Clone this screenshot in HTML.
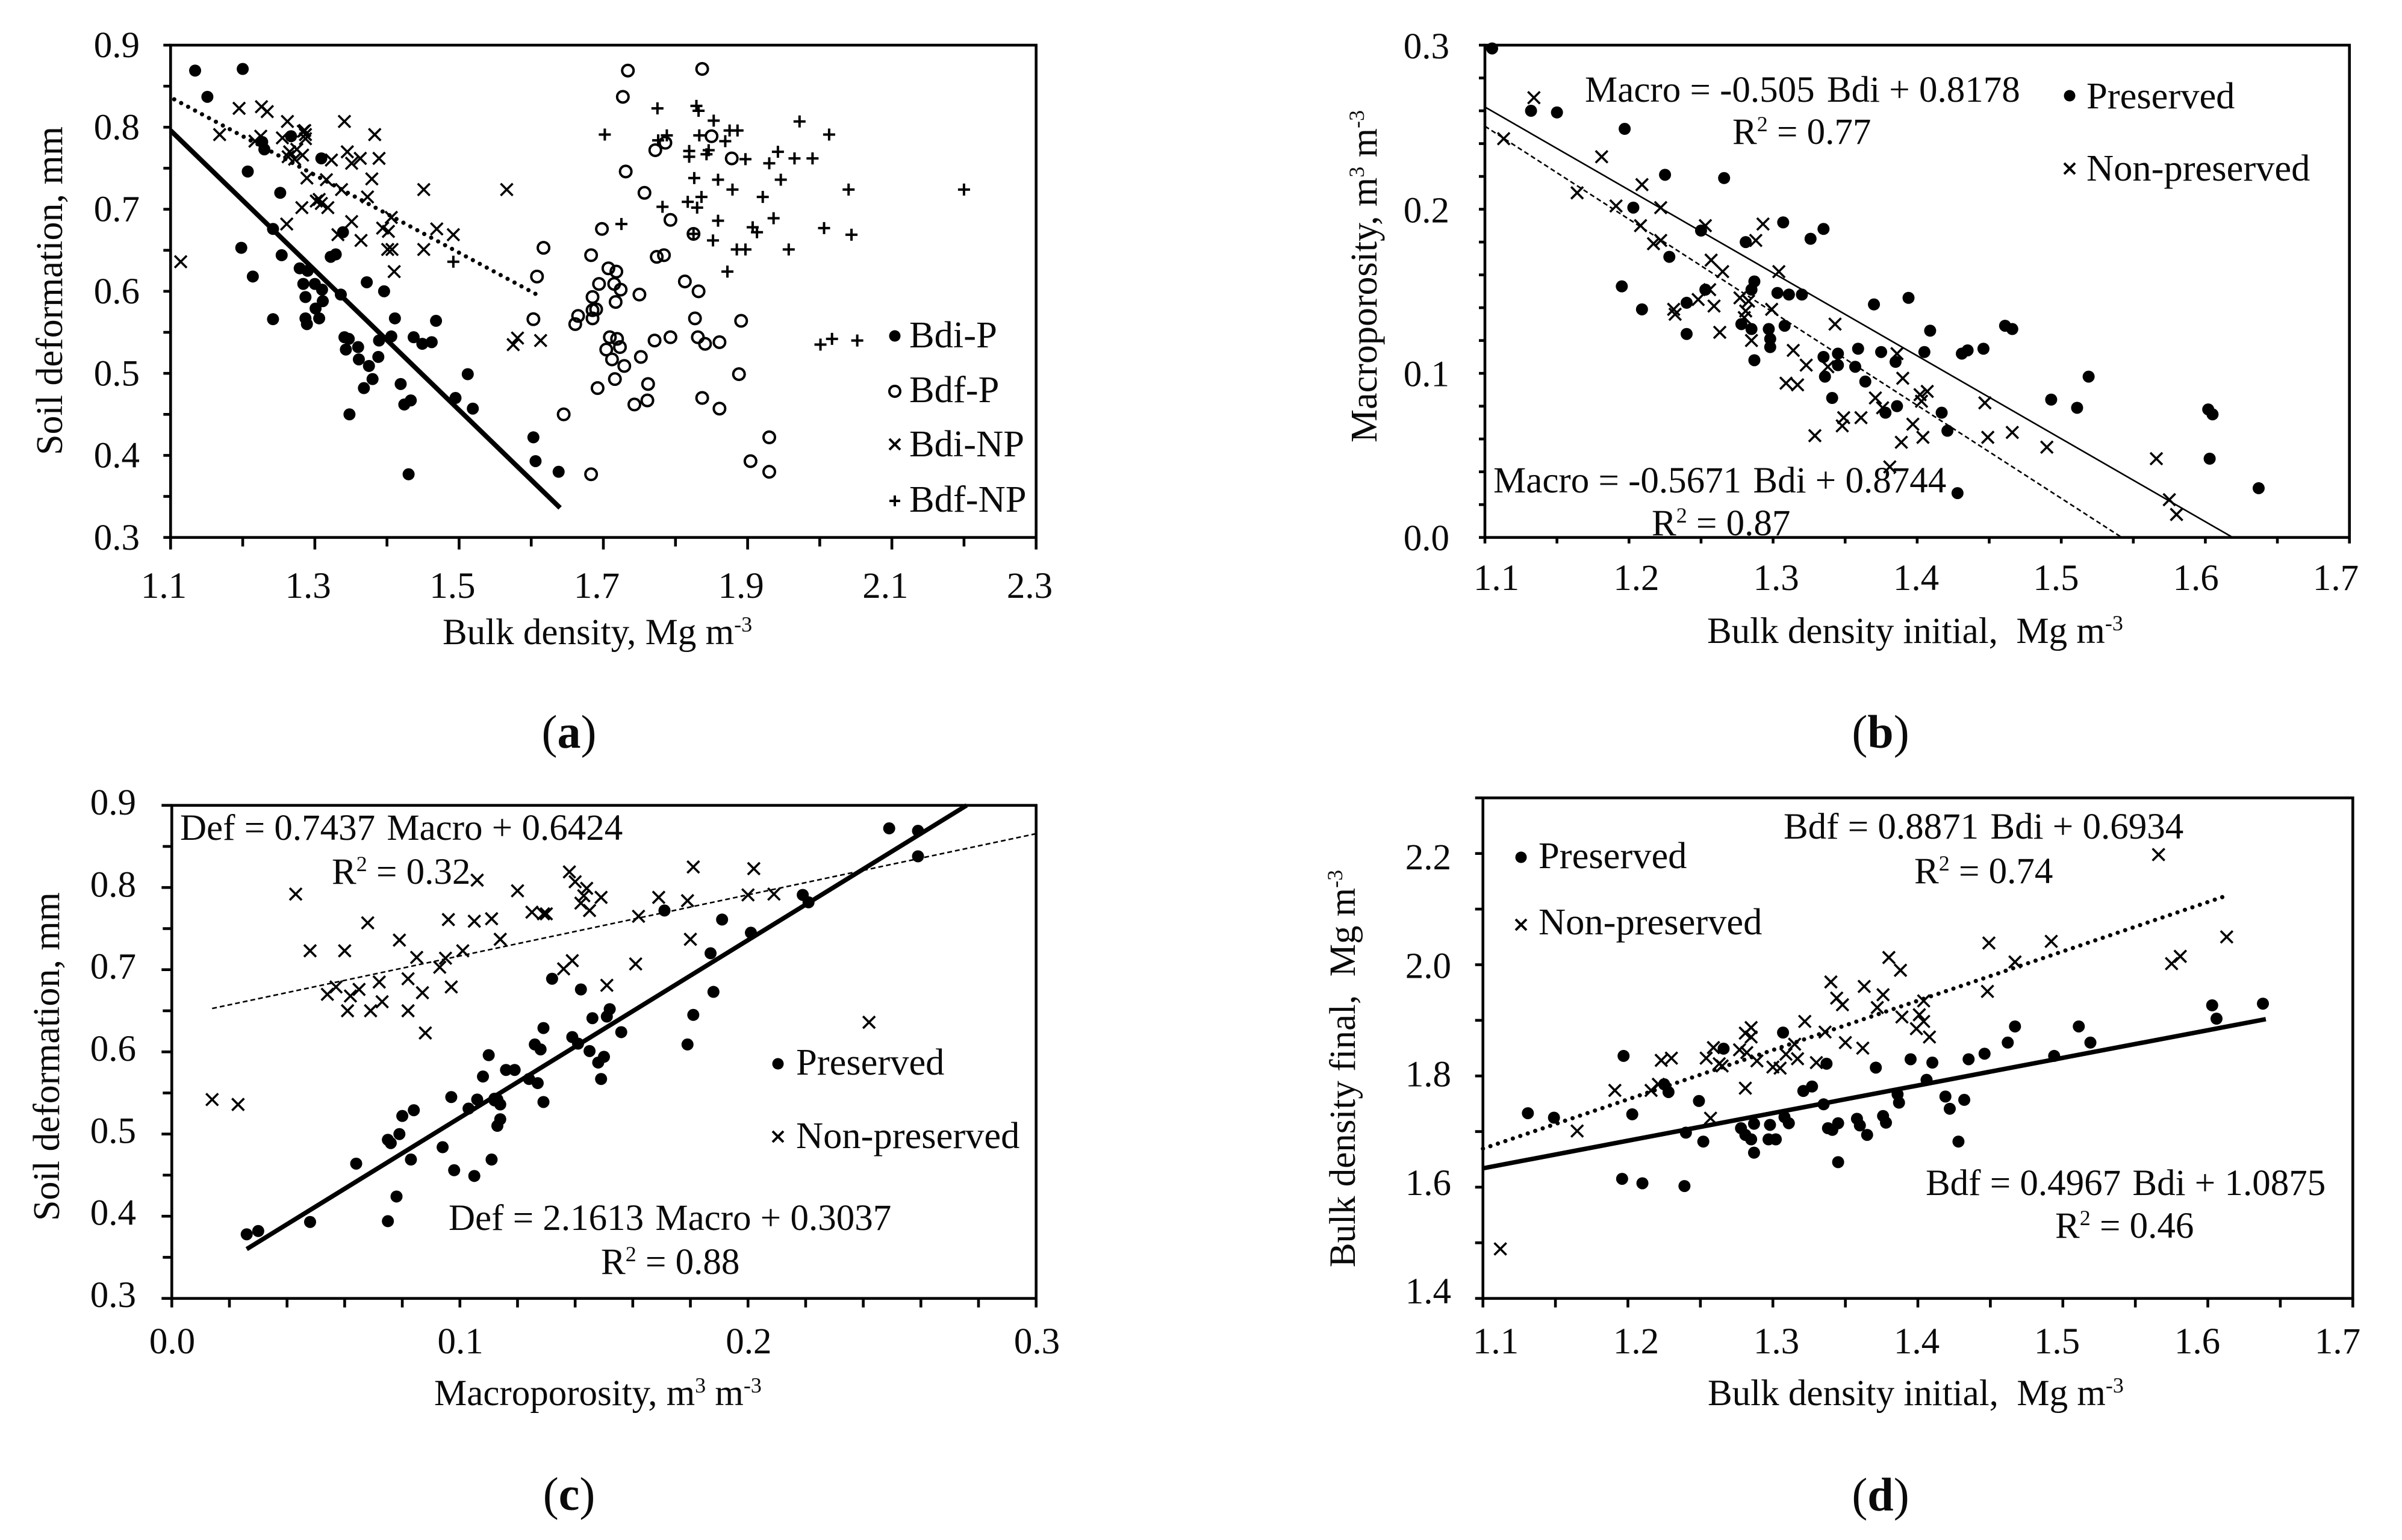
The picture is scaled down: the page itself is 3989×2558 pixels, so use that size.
<!DOCTYPE html>
<html lang="en">
<head>
<meta charset="utf-8">
<title>Soil deformation, macroporosity and bulk density charts</title>
<style>
html,body{margin:0;padding:0;background:#fff;}
svg{display:block;}
text{font-family:"Liberation Serif",serif;font-size:61px;fill:#0a0a0a;white-space:pre;}
.cap{font-size:78px;}
.cap .b{font-weight:bold;}
.leg{font-size:62.5px;}
</style>
</head>
<body>
<svg id="figure" xmlns="http://www.w3.org/2000/svg" width="3989" height="2558" viewBox="0 0 3989 2558">
<rect x="0" y="0" width="3989" height="2558" fill="#fff"/>

<g id="panel-a"></g>
<g id="panel-b"></g>
<g id="panel-c"></g>
<g id="panel-d"></g>

<!-- Panel a text -->
<text transform="translate(103,483) rotate(-90)" text-anchor="middle" style="font-size:62px">Soil deformation, mm</text>
<text x="735" y="1070">Bulk density, Mg m<tspan style="font-size:36px" dy="-21">-3</tspan></text>
<text class="cap" x="945" y="1242" text-anchor="middle">(<tspan class="b">a</tspan>)</text>
<g>
<circle cx="1486" cy="558" r="9.5" fill="#000"/>
<text class="leg" x="1510" y="577">Bdi-P</text>
<circle cx="1486" cy="650" r="9" fill="none" stroke="#000" stroke-width="4"/>
<text class="leg" x="1510" y="668">Bdf-P</text>
<path d="M1477 729L1495 747M1495 729L1477 747" stroke="#000" stroke-width="4" fill="none"/>
<text class="leg" x="1510" y="758">Bdi-NP</text>
<path d="M1477 832H1495M1486 823V841" stroke="#000" stroke-width="4" fill="none"/>
<text class="leg" x="1510" y="850">Bdf-NP</text>
</g>

<!-- Panel b text -->
<text transform="translate(2286,459) rotate(-90)" text-anchor="middle" style="font-size:62px">Macroporosity, m<tspan style="font-size:36px" dy="-21">3</tspan><tspan dy="21"> m</tspan><tspan style="font-size:36px" dy="-21">-3</tspan></text>
<text x="2835" y="1068">Bulk density initial,  Mg m<tspan style="font-size:36px" dy="-21">-3</tspan></text>
<text class="cap" x="3123" y="1242" text-anchor="middle">(<tspan class="b">b</tspan>)</text>
<text x="2632" y="169">Macro = -0.505 <tspan dx="5">Bdi + 0.8178</tspan></text>
<text x="2877" y="239">R<tspan style="font-size:36px" dy="-21">2</tspan><tspan dy="21"> = 0.77</tspan></text>
<text x="2480" y="818">Macro = -0.5671 <tspan dx="4">Bdi + 0.8744</tspan></text>
<text x="2743" y="889">R<tspan style="font-size:36px" dy="-21">2</tspan><tspan dy="21"> = 0.87</tspan></text>
<g>
<circle cx="3437" cy="159" r="9.5" fill="#000"/>
<text class="leg" x="3465" y="180">Preserved</text>
<path d="M3428 271L3446 289M3446 271L3428 289" stroke="#000" stroke-width="4" fill="none"/>
<text class="leg" x="3465" y="300">Non-preserved</text>
</g>

<!-- Panel c text -->
<text transform="translate(98,1755) rotate(-90)" text-anchor="middle" style="font-size:62px">Soil deformation, mm</text>
<text x="721" y="2334">Macroporosity, m<tspan style="font-size:36px" dy="-21">3</tspan><tspan dy="21"> m</tspan><tspan style="font-size:36px" dy="-21">-3</tspan></text>
<text class="cap" x="945" y="2508" text-anchor="middle">(<tspan class="b">c</tspan>)</text>
<text x="299" y="1395">Def = 0.7437 <tspan dx="4">Macro + 0.6424</tspan></text>
<text x="551" y="1468">R<tspan style="font-size:36px" dy="-21">2</tspan><tspan dy="21"> = 0.32</tspan></text>
<text x="745" y="2043">Def = 2.1613 <tspan dx="4">Macro + 0.3037</tspan></text>
<text x="998" y="2116">R<tspan style="font-size:36px" dy="-21">2</tspan><tspan dy="21"> = 0.88</tspan></text>
<g>
<circle cx="1292" cy="1767" r="9.5" fill="#000"/>
<text class="leg" x="1322" y="1785">Preserved</text>
<path d="M1283 1879L1301 1897M1301 1879L1283 1897" stroke="#000" stroke-width="4" fill="none"/>
<text class="leg" x="1322" y="1907">Non-preserved</text>
</g>

<!-- Panel d text -->
<text transform="translate(2250,1775) rotate(-90)" text-anchor="middle">Bulk density final,  Mg m<tspan style="font-size:36px" dy="-21">-3</tspan></text>
<text x="2836" y="2334">Bulk density initial,  Mg m<tspan style="font-size:36px" dy="-21">-3</tspan></text>
<text class="cap" x="3123" y="2509" text-anchor="middle">(<tspan class="b">d</tspan>)</text>
<text x="2962" y="1393">Bdf = 0.8871 <tspan dx="4">Bdi + 0.6934</tspan></text>
<text x="3179" y="1467">R<tspan style="font-size:36px" dy="-21">2</tspan><tspan dy="21"> = 0.74</tspan></text>
<text x="3198" y="1985">Bdf = 0.4967 <tspan dx="4">Bdi + 1.0875</tspan></text>
<text x="3413" y="2056">R<tspan style="font-size:36px" dy="-21">2</tspan><tspan dy="21"> = 0.46</tspan></text>
<g>
<circle cx="2526" cy="1424" r="9.5" fill="#000"/>
<text class="leg" x="2555" y="1442">Preserved</text>
<path d="M2517 1527L2535 1545M2535 1527L2517 1545" stroke="#000" stroke-width="4" fill="none"/>
<text class="leg" x="2555" y="1552">Non-preserved</text>
</g>
</svg>

<script>
// ---------- Panel a data ----------
const aBdiPX=[1.134,1.200,1.151,1.207,1.252,1.227,1.230,1.267,1.309,1.242,1.339,1.198,1.254,1.214,1.279,1.290,1.284,1.287,1.300,1.310,1.311,1.301,1.306,1.287,1.289,1.242,1.322,1.329,1.336,1.372,1.396,1.411,1.468,1.406,1.389,1.341,1.347,1.343,1.360,1.361,1.375,1.388,1.380,1.368,1.348,1.419,1.424,1.433,1.437,1.449,1.462,1.495,1.512,1.519,1.603,1.606,1.638,1.430];
const aBdiPY=[.869,.871,.837,.746,.720,.782,.773,.789,.762,.676,.672,.653,.644,.618,.628,.625,.609,.593,.609,.602,.588,.579,.567,.567,.560,.566,.642,.645,.596,.611,.600,.567,.564,.545,.540,.544,.542,.529,.532,.517,.509,.520,.493,.482,.450,.487,.462,.467,.544,.536,.538,.470,.499,.457,.422,.393,.380,.377];
const aBdfPX=[1.734,1.837,1.727,1.850,1.772,1.786,1.878,1.731,1.757,1.793,1.825,1.698,1.617,1.683,1.774,1.784,1.707,1.718,1.608,1.694,1.715,1.724,1.685,1.717,1.750,1.813,1.832,1.685,1.690,1.685,1.665,1.661,1.603,1.827,1.891,1.709,1.719,1.771,1.793,1.831,1.841,1.861,1.704,1.723,1.752,1.712,1.729,1.716,1.762,1.692,1.888,1.645,1.743,1.761,1.837,1.861,1.930,1.904,1.930,1.683];
const aBdfPY=[.869,.871,.837,.789,.772,.781,.762,.746,.720,.687,.670,.676,.653,.644,.642,.644,.628,.624,.618,.609,.609,.602,.593,.587,.596,.612,.600,.577,.578,.567,.570,.560,.566,.567,.564,.544,.542,.540,.544,.544,.536,.538,.529,.532,.520,.517,.509,.493,.487,.482,.499,.450,.462,.467,.470,.457,.422,.393,.380,.377];
const aBdiNpX=[1.114,1.195,1.226,1.234,1.168,1.225,1.217,1.262,1.341,1.286,1.284,1.287,1.287,1.255,1.383,1.265,1.263,1.275,1.272,1.283,1.323,1.345,1.351,1.363,1.389,1.379,1.289,1.316,1.337,1.451,1.566,1.373,1.282,1.318,1.302,1.306,1.309,1.261,1.351,1.332,1.406,1.394,1.402,1.469,1.492,1.364,1.401,1.407,1.451,1.410,1.581,1.575,1.613];
const aBdiNpY=[.636,.823,.825,.819,.791,.789,.783,.807,.807,.796,.795,.791,.786,.787,.791,.770,.764,.773,.761,.766,.760,.770,.756,.762,.762,.737,.738,.736,.724,.724,.724,.715,.702,.702,.710,.712,.707,.682,.685,.669,.690,.677,.673,.676,.669,.662,.651,.651,.651,.624,.543,.535,.540];
const aBdfNpX=[1.702,1.775,1.829,1.832,1.853,1.972,2.013,1.875,1.886,1.833,1.788,1.776,1.869,1.819,1.819,1.846,1.843,1.897,1.930,1.942,1.965,1.990,1.826,1.859,1.946,2.040,2.200,1.879,1.921,1.836,1.817,1.782,1.830,1.725,1.859,1.936,1.907,1.913,2.006,2.044,1.825,1.852,1.885,1.897,1.957,1.492,1.872,2.001,2.017,2.052];
const aBdfNpY=[.791,.823,.826,.820,.808,.807,.791,.796,.796,.790,.790,.784,.783,.771,.764,.772,.767,.761,.756,.770,.762,.762,.738,.736,.736,.724,.724,.724,.715,.715,.709,.703,.702,.682,.686,.689,.678,.672,.677,.669,.670,.662,.651,.651,.651,.636,.624,.535,.542,.540];
const aLineBdiPX=[1.1,1.64];
const aLineBdiPY=[.796,.336];
const aLineBdiNpX=[1.105,1.612];
const aLineBdiNpY=[.834,.594];
const aXTickLabels=['1.1','1.3','1.5','1.7','1.9','2.1','2.3'];
const aYTickLabels=['0.3','0.4','0.5','0.6','0.7','0.8','0.9'];

// ---------- Panel b data ----------
const bPresX=[1.105,1.132,1.150,1.197,1.225,1.266,1.203,1.250,1.307,1.335,1.326,1.281,1.228,1.195,1.253,1.285,1.287,1.303,1.311,1.320,1.240,1.209,1.278,1.308,1.285,1.297,1.240,1.298,1.298,1.287,1.370,1.394,1.409,1.461,1.466,1.435,1.431,1.446,1.405,1.375,1.359,1.345,1.335,1.345,1.385,1.357,1.364,1.336,1.341,1.386,1.378,1.417,1.421,1.493,1.519,1.511,1.602,1.605,1.603,1.637,1.428];
const bPresY=[.298,.260,.259,.249,.221,.219,.201,.187,.192,.188,.182,.180,.171,.153,.151,.151,.156,.149,.148,.148,.143,.139,.130,.129,.127,.127,.124,.121,.116,.108,.142,.146,.126,.129,.127,.114,.112,.115,.113,.113,.115,.112,.110,.105,.107,.104,.095,.098,.085,.080,.076,.076,.065,.084,.098,.079,.078,.075,.048,.030,.027];
const bNonX=[1.134,1.113,1.181,1.209,1.164,1.191,1.222,1.208,1.253,1.293,1.288,1.222,1.217,1.257,1.265,1.304,1.256,1.248,1.277,1.283,1.259,1.299,1.281,1.231,1.232,1.280,1.343,1.263,1.285,1.314,1.386,1.323,1.338,1.309,1.317,1.390,1.371,1.376,1.407,1.402,1.403,1.447,1.349,1.361,1.348,1.397,1.329,1.404,1.389,1.449,1.466,1.490,1.381,1.566,1.575,1.580];
const bNonY=[.268,.243,.232,.215,.210,.202,.201,.190,.190,.191,.181,.181,.179,.169,.162,.162,.151,.145,.146,.144,.141,.139,.138,.139,.136,.134,.130,.125,.120,.114,.112,.105,.104,.094,.093,.097,.085,.079,.089,.087,.083,.082,.073,.073,.068,.069,.062,.061,.058,.061,.064,.055,.043,.048,.023,.014];
const bLinePresX=[1.1,1.619];
const bLinePresY=[.2623,0];
const bLineNonX=[1.1,1.542];
const bLineNonY=[.2506,0];
const bXTickLabels=['1.1','1.2','1.3','1.4','1.5','1.6','1.7'];
const bYTickLabels=['0.0','0.1','0.2','0.3'];

// ---------- Panel c data ----------
const cPresX=[.249,.259,.259,.219,.221,.171,.191,.201,.187,.188,.181,.179,.132,.142,.146,.151,.152,.129,.156,.139,.141,.126,.128,.145,.150,.148,.149,.110,.116,.119,.108,.124,.127,.097,.106,.103,.112,.113,.112,.114,.129,.084,.080,.114,.113,.079,.075,.076,.094,.064,.083,.111,.098,.105,.078,.075,.048,.026,.030];
const cPresY=[.872,.869,.838,.791,.782,.772,.761,.745,.720,.673,.645,.609,.689,.676,.641,.643,.652,.629,.624,.618,.610,.609,.603,.601,.594,.587,.567,.596,.578,.578,.570,.567,.562,.545,.542,.531,.543,.542,.541,.536,.539,.529,.522,.518,.510,.500,.493,.489,.484,.464,.469,.469,.456,.449,.424,.394,.393,.378,.382];
const cNonX=[.043,.106,.120,.138,.140,.144,.143,.142,.149,.145,.181,.202,.200,.209,.169,.179,.162,.125,.129,.130,.068,.096,.105,.111,.079,.114,.180,.048,.060,.101,.085,.095,.093,.161,.139,.136,.072,.082,.097,.151,.057,.065,.054,.062,.087,.073,.061,.069,.082,.088,.242,.014,.023];
const cNonY=[.792,.809,.796,.819,.807,.799,.790,.781,.788,.772,.825,.823,.791,.792,.788,.784,.765,.770,.768,.768,.757,.761,.759,.762,.736,.737,.737,.723,.723,.723,.715,.714,.703,.707,.711,.701,.685,.689,.679,.681,.679,.676,.670,.668,.672,.661,.650,.650,.650,.623,.636,.542,.536];
const cLinePresX=[.026,.2759];
const cLinePresY=[.360,.900];
const cLineNonX=[.014,.3];
const cLineNonY=[.6528,.8655];
const cXTickLabels=['0.0','0.1','0.2','0.3'];
const cYTickLabels=['0.3','0.4','0.5','0.6','0.7','0.8','0.9'];

// ---------- Panel d data ----------
const dPresX=[1.131,1.149,1.197,1.203,1.196,1.210,1.239,1.225,1.228,1.240,1.249,1.252,1.266,1.278,1.281,1.285,1.287,1.287,1.298,1.297,1.302,1.307,1.308,1.311,1.321,1.327,1.337,1.335,1.338,1.341,1.345,1.345,1.358,1.360,1.365,1.371,1.376,1.378,1.386,1.387,1.395,1.406,1.410,1.419,1.422,1.428,1.432,1.435,1.446,1.462,1.467,1.494,1.511,1.519,1.603,1.606,1.638];
const dPresY=[1.733,1.725,1.836,1.731,1.615,1.607,1.602,1.785,1.771,1.698,1.755,1.682,1.849,1.706,1.694,1.686,1.714,1.662,1.712,1.686,1.686,1.878,1.726,1.715,1.773,1.781,1.822,1.749,1.706,1.703,1.715,1.645,1.723,1.711,1.694,1.815,1.728,1.716,1.767,1.752,1.830,1.793,1.824,1.763,1.741,1.682,1.757,1.830,1.840,1.860,1.889,1.836,1.889,1.860,1.927,1.903,1.930];
const dNonX=[1.112,1.165,1.191,1.216,1.221,1.223,1.230,1.254,1.259,1.257,1.263,1.265,1.277,1.281,1.282,1.285,1.285,1.281,1.289,1.300,1.305,1.309,1.315,1.317,1.322,1.330,1.336,1.340,1.344,1.348,1.350,1.363,1.362,1.372,1.376,1.380,1.388,1.389,1.399,1.401,1.404,1.404,1.408,1.448,1.449,1.467,1.492,1.566,1.575,1.581,1.613];
const dNonY=[1.489,1.701,1.774,1.774,1.785,1.828,1.832,1.832,1.851,1.724,1.822,1.818,1.847,1.877,1.842,1.887,1.870,1.778,1.827,1.816,1.814,1.839,1.857,1.831,1.898,1.824,1.879,1.969,1.940,1.928,1.860,1.961,1.850,1.923,1.946,2.013,1.990,1.906,1.885,1.910,1.898,1.935,1.870,1.952,2.039,2.005,2.042,2.198,2.002,2.015,2.050];
const dLinePresX=[1.1,1.64];
const dLinePresY=[1.6339,1.9021];
const dLineNonX=[1.1,1.615];
const dLineNonY=[1.6692,2.126];
const dXTickLabels=['1.1','1.2','1.3','1.4','1.5','1.6','1.7'];
const dYTickLabels=['1.4','1.6','1.8','2.0','2.2'];

const SVGNS='http://www.w3.org/2000/svg';

function make(parent,tag,attrs){
  const el=document.createElementNS(SVGNS,tag);
  for(const k in attrs){el.setAttribute(k,attrs[k]);}
  parent.appendChild(el);
  return el;
}

function drawMarker(g,shape,px,py,name){
  let el;
  if(shape==='dot'){
    el=make(g,'circle',{cx:px,cy:py,r:10,fill:'#000'});
  }else if(shape==='ring'){
    el=make(g,'circle',{cx:px,cy:py,r:9.5,fill:'none',stroke:'#000','stroke-width':4});
  }else if(shape==='cross'){
    el=make(g,'path',{d:'M'+(px-10)+' '+(py-10)+'L'+(px+10)+' '+(py+10)+'M'+(px+10)+' '+(py-10)+'L'+(px-10)+' '+(py+10),fill:'none',stroke:'#000','stroke-width':3.6});
  }else{
    el=make(g,'path',{d:'M'+(px-10)+' '+py+'H'+(px+10)+'M'+px+' '+(py-10)+'V'+(py+10),fill:'none',stroke:'#000','stroke-width':4});
  }
  
  
}

function drawPanel(cfg){
  const root=document.getElementById(cfg.id);
  const sx=v=>cfg.left+(v-cfg.xMin)/(cfg.xMax-cfg.xMin)*(cfg.right-cfg.left);
  const sy=v=>cfg.bottom-(v-cfg.yMin)/(cfg.yMax-cfg.yMin)*(cfg.bottom-cfg.top);

  // ticks
  const ticks=make(root,'g',{});
  
  
  const nx=Math.round((cfg.xMax-cfg.xMin)/cfg.xMinor);
  for(let i=0;i<=nx;i++){
    const v=cfg.xMin+i*cfg.xMinor;
    const isMajor=Math.abs(((i*cfg.xMinor)/cfg.xMajor)-Math.round((i*cfg.xMinor)/cfg.xMajor))<1e-6;
    const t=make(ticks,'line',{x1:sx(v),x2:sx(v),y1:cfg.bottom,y2:cfg.bottom+(isMajor?cfg.xTickMajor:cfg.xTickMinor),stroke:'#000','stroke-width':4.6});
    
    
  }
  const ny=Math.round((cfg.yMax-cfg.yMin)/cfg.yMinor);
  for(let i=0;i<=ny;i++){
    const v=cfg.yMin+i*cfg.yMinor;
    const isMajor=Math.abs(((i*cfg.yMinor)/cfg.yMajor)-Math.round((i*cfg.yMinor)/cfg.yMajor))<1e-6;
    const t=make(ticks,'line',{x1:cfg.left,x2:cfg.left-(isMajor?cfg.yTickMajor:cfg.yTickMinor),y1:sy(v),y2:sy(v),stroke:'#000','stroke-width':4.6});
    
    
  }

  // plot frame
  const frame=make(root,'rect',{x:cfg.left,y:cfg.top,width:cfg.right-cfg.left,height:cfg.bottom-cfg.top,fill:'none',stroke:'#000','stroke-width':4.6});
  
  

  // tick labels
  cfg.xLabels.forEach((s,i)=>{
    const f=i/(cfg.xLabels.length-1);
    const t=make(root,'text',{x:cfg.xLabelFirst+f*(cfg.xLabelLast-cfg.xLabelFirst),y:cfg.xLabelBase,'text-anchor':'middle'});
    t.textContent=s;
    
    
  });
  cfg.yLabels.forEach((s,i)=>{
    const f=i/(cfg.yLabels.length-1);
    const t=make(root,'text',{x:cfg.yLabelRight,y:cfg.yLabelFirst+f*(cfg.yLabelLast-cfg.yLabelFirst)+21,'text-anchor':'end'});
    t.textContent=s;
    
    
  });

  // series
  cfg.series.forEach(s=>{
    const g=make(root,'g',{});
    
    
    s.xs.forEach((x,i)=>{
      drawMarker(g,s.shape,sx(x),sy(s.ys[i]),s.name+'-point');
    });
  });

  // trend lines
  cfg.lines.forEach(l=>{
    const pts=l.xs.map((x,i)=>sx(x)+','+sy(l.ys[i])).join(' ');
    const el=make(root,'polyline',{points:pts,fill:'none',stroke:'#000','stroke-width':l.w});
    if(l.dash){el.setAttribute('stroke-dasharray',l.dash);}
    if(l.cap){el.setAttribute('stroke-linecap',l.cap);}
    
    
  });
}

drawPanel({
  id:'panel-a',left:283.3,right:1720.7,top:75,bottom:892.7,
  xMin:1.1,xMax:2.3,yMin:.3,yMax:.9,
  xMajor:.2,xMinor:.1,yMajor:.1,yMinor:.05,
  xTickMajor:20,xTickMinor:15,yTickMajor:12,yTickMinor:12,
  xLabels:aXTickLabels,xLabelFirst:272,xLabelLast:1710,xLabelBase:993,
  yLabels:aYTickLabels,yLabelFirst:892,yLabelLast:74,yLabelRight:232,
  series:[
    {name:'bdf-p-series',shape:'ring',xs:aBdfPX,ys:aBdfPY},
    {name:'bdf-np-series',shape:'plus',xs:aBdfNpX,ys:aBdfNpY},
    {name:'bdi-np-series',shape:'cross',xs:aBdiNpX,ys:aBdiNpY},
    {name:'bdi-p-series',shape:'dot',xs:aBdiPX,ys:aBdiPY}
  ],
  lines:[
    {name:'bdi-p-trendline',xs:aLineBdiPX,ys:aLineBdiPY,w:8},
    {name:'bdi-np-trendline',xs:aLineBdiNpX,ys:aLineBdiNpY,w:7,dash:'0.1 13',cap:'round'}
  ]
});

drawPanel({
  id:'panel-b',left:2466,right:3901.7,top:75,bottom:892.7,
  xMin:1.1,xMax:1.7,yMin:0,yMax:.3,
  xMajor:.1,xMinor:.05,yMajor:.1,yMinor:.02,
  xTickMajor:10,xTickMinor:10,yTickMajor:10,yTickMinor:10,
  xLabels:bXTickLabels,xLabelFirst:2485,xLabelLast:3879,xLabelBase:980,
  yLabels:bYTickLabels,yLabelFirst:893,yLabelLast:76,yLabelRight:2407,
  series:[
    {name:'non-preserved-series',shape:'cross',xs:bNonX,ys:bNonY},
    {name:'preserved-series',shape:'dot',xs:bPresX,ys:bPresY}
  ],
  lines:[
    {name:'preserved-trendline',xs:bLinePresX,ys:bLinePresY,w:2.6},
    {name:'non-preserved-trendline',xs:bLineNonX,ys:bLineNonY,w:2.6,dash:'8 5'}
  ]
});

drawPanel({
  id:'panel-c',left:285.3,right:1720.7,top:1337.7,bottom:2156.7,
  xMin:0,xMax:.3,yMin:.3,yMax:.9,
  xMajor:.1,xMinor:.02,yMajor:.1,yMinor:.05,
  xTickMajor:15,xTickMinor:15,yTickMajor:17,yTickMinor:15,
  xLabels:cXTickLabels,xLabelFirst:286,xLabelLast:1722,xLabelBase:2248,
  yLabels:cYTickLabels,yLabelFirst:2150,yLabelLast:1332,yLabelRight:226,
  series:[
    {name:'non-preserved-series',shape:'cross',xs:cNonX,ys:cNonY},
    {name:'preserved-series',shape:'dot',xs:cPresX,ys:cPresY}
  ],
  lines:[
    {name:'preserved-trendline',xs:cLinePresX,ys:cLinePresY,w:7.5},
    {name:'non-preserved-trendline',xs:cLineNonX,ys:cLineNonY,w:2.6,dash:'8 5'}
  ]
});

drawPanel({
  id:'panel-d',left:2462.7,right:3907.3,top:1325.3,bottom:2156.7,
  xMin:1.1,xMax:1.7,yMin:1.4,yMax:2.3,
  xMajor:.1,xMinor:.05,yMajor:.2,yMinor:.1,
  xTickMajor:15,xTickMinor:15,yTickMajor:13,yTickMinor:13,
  xLabels:dXTickLabels,xLabelFirst:2484,xLabelLast:3882,xLabelBase:2248,
  yLabels:dYTickLabels,yLabelFirst:2144,yLabelLast:1423,yLabelRight:2410,
  series:[
    {name:'non-preserved-series',shape:'cross',xs:dNonX,ys:dNonY},
    {name:'preserved-series',shape:'dot',xs:dPresX,ys:dPresY}
  ],
  lines:[
    {name:'preserved-trendline',xs:dLinePresX,ys:dLinePresY,w:7.5},
    {name:'non-preserved-trendline',xs:dLineNonX,ys:dLineNonY,w:7,dash:'0.1 13',cap:'round'}
  ]
});
</script>
</body>
</html>
